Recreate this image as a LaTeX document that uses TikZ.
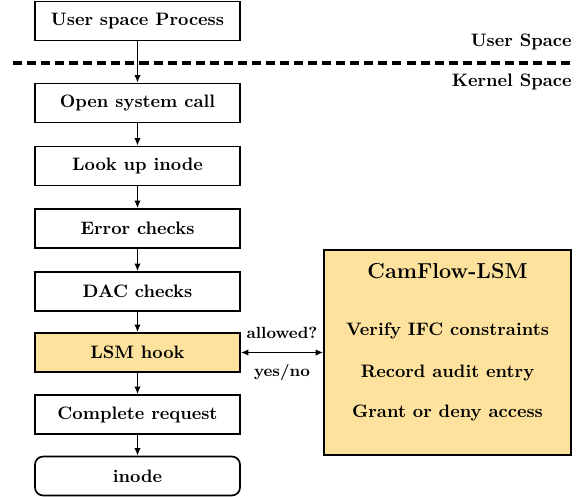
\documentclass[tikz,border=0pt]{standalone}
\usetikzlibrary{arrows.meta}
\definecolor{lsmfill}{RGB}{253,226,157}
\begin{document}
\begin{tikzpicture}[x=0.555pt,y=-0.555pt,
  font=\bfseries,
  stepbox/.style={draw,line width=0.95pt,minimum width=113.8pt,minimum height=21.6pt,inner sep=0pt},
  flow/.style={line width=0.95pt,-{Latex[length=4.2pt,width=3.6pt]}},
  lbl/.style={inner sep=0pt,anchor=east}]
\useasboundingbox (0,0) rectangle (580,496);
\draw[line width=2.2pt,dash pattern=on 5pt off 2.8pt] (13,63) -- (572,63);
\node[lbl] (us) at (572,42) {User Space};
\node[lbl] (ks) at (572,82) {Kernel Space};
\node[stepbox] (up) at (137.5,21) {User space Process};
\node[stepbox] (open) at (137.5,103) {Open system call};
\node[stepbox] (look) at (137.5,166) {Look up inode};
\node[stepbox] (err) at (137.5,228.5) {Error checks};
\node[stepbox] (dac) at (137.5,291.5) {DAC checks};
\node[stepbox,fill=lsmfill] (hook) at (137.5,352.5) {LSM hook};
\node[stepbox] (comp) at (137.5,414.5) {Complete request};
\node[stepbox,rounded corners=4.5pt] (inode) at (137.5,476) {inode};
\node[draw,line width=0.95pt,fill=lsmfill,minimum width=137pt,minimum height=113.8pt] (cam) at (447.5,352.5) {};
\node (title) at (447.5,271) {\large CamFlow-LSM};
\node (v1) at (447.5,331) {Verify IFC constraints};
\node (v2) at (447.5,373) {Record audit entry};
\node (v3) at (447.5,413) {Grant or deny access};
\draw[flow] (up) -- (open);
\draw[flow] (open) -- (look);
\draw[flow] (look) -- (err);
\draw[flow] (err) -- (dac);
\draw[flow] (dac) -- (hook);
\draw[flow] (hook) -- (comp);
\draw[flow] (comp) -- (inode);
\draw[line width=0.95pt,{Latex[length=4.2pt,width=3.6pt]}-{Latex[length=4.2pt,width=3.6pt]}] (hook.east) -- (cam.west |- hook.east);
\node[font=\small\bfseries] (allow) at (282,333) {allowed?};
\node[font=\small\bfseries] (yn) at (282,372) {yes/no};
\end{tikzpicture}
\end{document}
